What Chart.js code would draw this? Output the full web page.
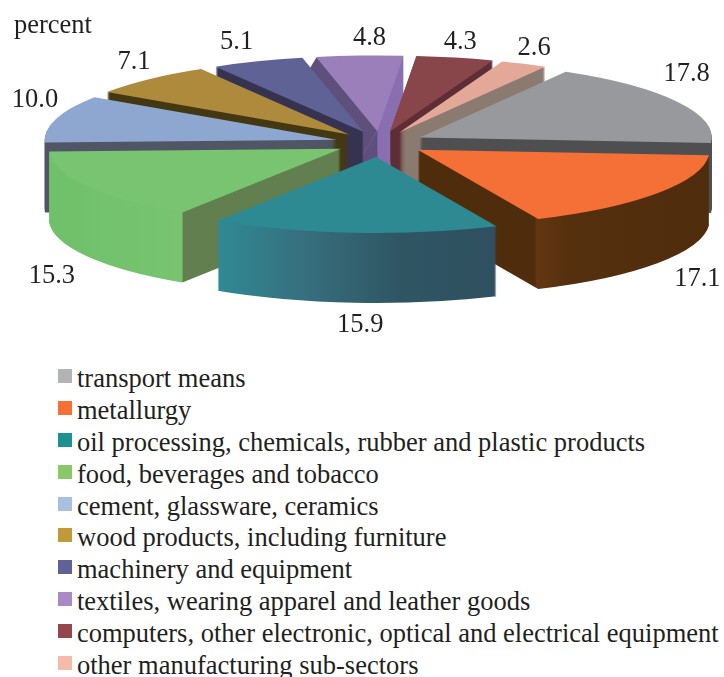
<!DOCTYPE html>
<html>
<head>
<meta charset="utf-8">
<title>Manufacturing sub-sectors</title>
<script src="https://cdn.jsdelivr.net/npm/chart.js@4"></script>
<style>
    html, body { margin: 0; padding: 0; background: #fff; overflow: hidden; }
    #page { position: relative; width: 724px; height: 677px; overflow: hidden; font-family: "Liberation Serif", serif; color: #231f20; }
    #chart-container { position: absolute; left: 0; top: 0; width: 724px; height: 350px; }
    #legend { position: absolute; left: 58px; top: 363px; margin: 0; padding: 0; list-style: none; font-size: 26.5px; line-height: 31.9px; white-space: nowrap; }
    #legend li { position: relative; padding-left: 19px; height: 31.9px; }
    #legend i { position: absolute; left: 0; top: 6px; width: 14px; height: 14px; }
</style>
</head>
<body>
<div id="page">
    <div id="chart-container"><canvas id="sectorChart"></canvas></div>
    <ul id="legend"></ul>
</div>
<script>
// Chart data
const sectorLabels = [
    'transport means',
    'metallurgy',
    'oil processing, chemicals, rubber and plastic products',
    'food, beverages and tobacco',
    'cement, glassware, ceramics',
    'wood products, including furniture',
    'machinery and equipment',
    'textiles, wearing apparel and leather goods',
    'computers, other electronic, optical and electrical equipment',
    'other manufacturing sub-sectors'
];
const sectorValues = [17.8, 17.1, 15.9, 15.3, 10.0, 7.1, 5.1, 4.8, 4.3, 2.6];
const unitLabel = 'percent';

// Colours
const topColors = ['#98999d', '#f47036', '#2d8a92', '#78c470', '#8ea7d0', '#ad8a3c', '#5e6294', '#9b7fbb', '#88464b', '#e4a898'];
const legendColors = ['#b2b3b5', '#f47036', '#1f9090', '#88c868', '#a8bfe0', '#c09a3a', '#5e6294', '#a98ac4', '#95484c', '#f3bba8'];
// Side wall colours as [page x, colour] stops
const wallStops = [
    [[0, '#4f4f52'], [724, '#4f4f52']],
    [[415, '#4f2c0c'], [535, '#4f2c0c'], [536, '#643612'], [570, '#54300e'], [715, '#4f2c0c']],
    [[216, '#2f8a95'], [300, '#37707f'], [400, '#2f5563'], [498, '#2f5060']],
    [[45, '#6fc06a'], [182, '#78c470'], [183, '#62804f'], [724, '#62804f']],
    [[0, '#515667'], [724, '#515667']],
    [[0, '#443813'], [724, '#443813']],
    [[0, '#353350'], [724, '#353350']],
    [[0, '#5e4f7c'], [377, '#5e4f7c'], [378, '#8a6fb0'], [724, '#8a6fb0']],
    [[0, '#5e2e36'], [724, '#5e2e36']],
    [[0, '#8a7a70'], [724, '#8a7a70']]
];

// 3D look of the pie
const PIE_CENTER_X = 380;
const PIE_CENTER_Y = 143;
const PIE_RADIUS = 292;
const PIE_SQUASH = 0.26;
const PIE_DEPTH = 70;
const explodeBy = [45, 46, 54, 45, 45, 45, 45, 45, 45, 45];
const wallLean = [0, 0, 0, 0, 0, 0, 0, 0.6, 0, 0];

// Value label nudges from the slice rim
const labelNudges = [[9, -28], [40, 86], [6, 92], [-35, 90], [-21, -19], [-15, -17], [-21, -19], [10, -17], [5, -16], [10, -16]];

// Moves the context onto one slice, depth is the drop in page pixels
function enterSlice(ctx, arc, index, depth, lean) {
    const mid = (arc.startAngle + arc.endAngle) / 2;
    ctx.translate(PIE_CENTER_X - depth * lean, PIE_CENTER_Y + depth);
    ctx.scale(1, PIE_SQUASH);
    ctx.translate(Math.cos(mid) * explodeBy[index] - arc.x, Math.sin(mid) * explodeBy[index] - arc.y);
}

function wallGradient(ctx, arc, index) {
    const mid = (arc.startAngle + arc.endAngle) / 2;
    const shift = PIE_CENTER_X - arc.x + Math.cos(mid) * explodeBy[index];
    const gradient = ctx.createLinearGradient(-shift, 0, 724 - shift, 0);
    wallStops[index].forEach(function(stop) {
        gradient.addColorStop(stop[0] / 724, stop[1]);
    });
    return gradient;
}

function drawWall(ctx, arc, index, lean) {
    for (let depth = PIE_DEPTH; depth > 0; depth--) {
        ctx.save();
        enterSlice(ctx, arc, index, depth, lean);
        arc.draw(ctx);
        ctx.restore();
    }
}

const extrudedPie = {
    id: 'extrudedPie',
    beforeDatasetsDraw(chart) {
        const ctx = chart.ctx;
        const arcs = chart.getDatasetMeta(0).data;

        // Walls first, back slices before front slices
        const order = arcs.map((arc, i) => i).sort(function(a, b) {
            const midA = (arcs[a].startAngle + arcs[a].endAngle) / 2;
            const midB = (arcs[b].startAngle + arcs[b].endAngle) / 2;
            return Math.sin(midA) - Math.sin(midB);
        });
        order.forEach(function(i) {
            const arc = arcs[i];
            const topOptions = arc.options;
            arc.options = { ...topOptions, backgroundColor: wallGradient(ctx, arc, i) };
            drawWall(ctx, arc, i, 0);
            if (wallLean[i]) {
                drawWall(ctx, arc, i, wallLean[i]);
            }
            arc.options = topOptions;
        });

        // Then all the top faces
        arcs.forEach(function(arc, i) {
            ctx.save();
            enterSlice(ctx, arc, i, 0, 0);
            arc.draw(ctx);
            ctx.restore();
        });
        return false;
    },
    afterDraw(chart) {
        const ctx = chart.ctx;
        const arcs = chart.getDatasetMeta(0).data;
        ctx.save();
        ctx.font = '26.5px "Liberation Serif"';
        ctx.fillStyle = '#231f20';
        ctx.textBaseline = 'middle';
        ctx.textAlign = 'center';
        arcs.forEach(function(arc, i) {
            const mid = (arc.startAngle + arc.endAngle) / 2;
            const rim = PIE_RADIUS + explodeBy[i];
            const x = PIE_CENTER_X + Math.cos(mid) * rim + labelNudges[i][0];
            const y = PIE_CENTER_Y + Math.sin(mid) * rim * PIE_SQUASH + labelNudges[i][1];
            ctx.fillText(sectorValues[i].toFixed(1), x, y);
        });
        ctx.textAlign = 'left';
        ctx.fillText(unitLabel, 14, 26);
        ctx.restore();
    }
};

// Initialize the chart
function initChart() {
    const canvas = document.getElementById('sectorChart');
    new Chart(canvas, {
        type: 'pie',
        data: {
            labels: sectorLabels,
            datasets: [{
                data: sectorValues,
                backgroundColor: topColors,
                borderWidth: 0
            }]
        },
        options: {
            responsive: true,
            maintainAspectRatio: false,
            rotation: 30,
            radius: PIE_RADIUS,
            events: [],
            plugins: {
                legend: { display: false },
                tooltip: { enabled: false }
            },
            animation: false
        },
        plugins: [extrudedPie]
    });
}

// Legend below the pie
function buildLegend() {
    const list = document.getElementById('legend');
    sectorLabels.forEach(function(label, i) {
        const item = document.createElement('li');
        const box = document.createElement('i');
        box.style.background = legendColors[i];
        item.appendChild(box);
        item.appendChild(document.createTextNode(label));
        list.appendChild(item);
    });
}

buildLegend();
initChart();
</script>
</body>
</html>
